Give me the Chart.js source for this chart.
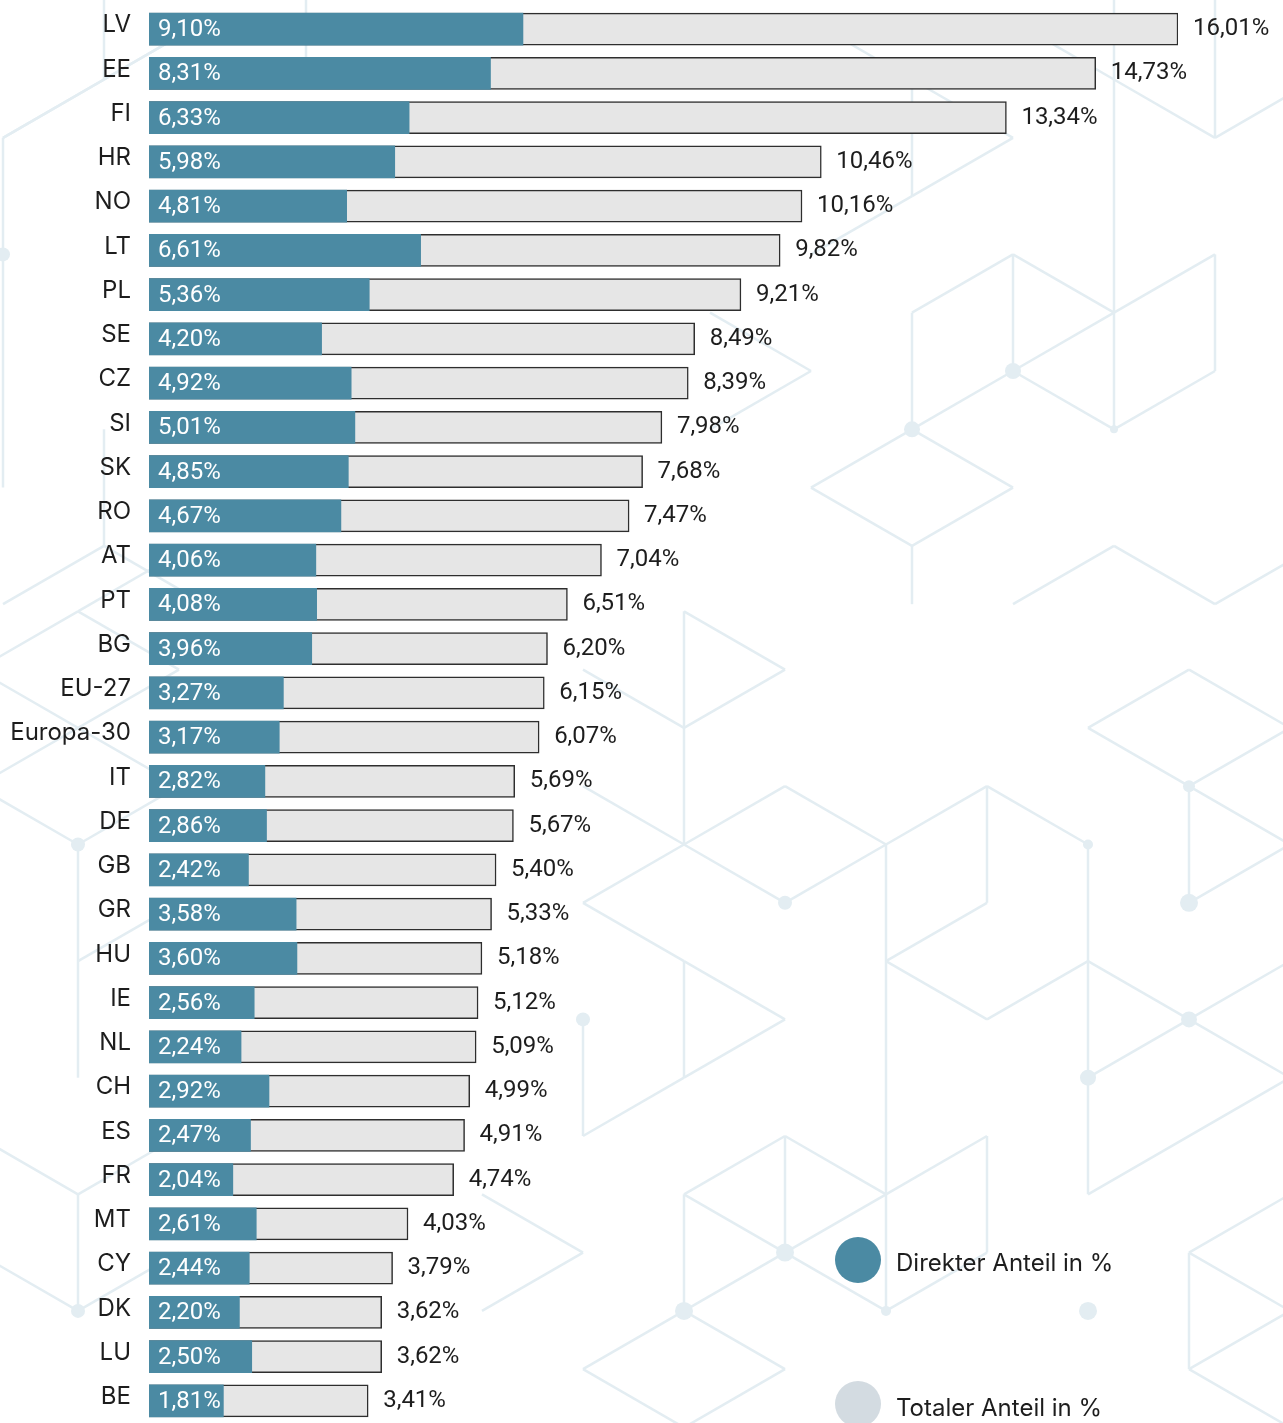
<!DOCTYPE html>
<html lang="de">
<head>
<meta charset="utf-8">
<title>Direkter und totaler Anteil in %</title>
<script src="https://cdn.jsdelivr.net/npm/chart.js@4.4.1/dist/chart.umd.min.js"></script>
<style>
  html, body { margin: 0; padding: 0; background: #fff; }
  #wrap { width: 1283px; height: 1423px; }
</style>
</head>
<body>
<div id="wrap"><canvas id="anteilChart" width="1283" height="1423"></canvas></div>
<script>
var categories = ['LV', 'EE', 'FI', 'HR', 'NO', 'LT', 'PL', 'SE', 'CZ', 'SI', 'SK', 'RO', 'AT', 'PT', 'BG',
    'EU-27', 'Europa-30', 'IT', 'DE', 'GB', 'GR', 'HU', 'IE', 'NL', 'CH', 'ES', 'FR', 'MT', 'CY', 'DK', 'LU', 'BE'];
var direktAnteil = [9.10, 8.31, 6.33, 5.98, 4.81, 6.61, 5.36, 4.20, 4.92, 5.01, 4.85, 4.67, 4.06, 4.08, 3.96,
    3.27, 3.17, 2.82, 2.86, 2.42, 3.58, 3.60, 2.56, 2.24, 2.92, 2.47, 2.04, 2.61, 2.44, 2.20, 2.50, 1.81];
var totalAnteil = [16.01, 14.73, 13.34, 10.46, 10.16, 9.82, 9.21, 8.49, 8.39, 7.98, 7.68, 7.47, 7.04, 6.51, 6.20,
    6.15, 6.07, 5.69, 5.67, 5.40, 5.33, 5.18, 5.12, 5.09, 4.99, 4.91, 4.74, 4.03, 3.79, 3.62, 3.62, 3.41];
var legendLabels = ['Direkter Anteil in %', 'Totaler Anteil in %'];

var TEAL = '#4b8aa3';
var BAR_GRAY = '#e6e6e6';
var LEGEND_GRAY = '#d3dbe1';
var TEXT = '#1d1d1d';
var LINE = '#e3edf2';
var FONT_NUM = 'Roboto, "Noto Sans", sans-serif';
var FONT_TXT = 'Inter, "Noto Sans", sans-serif';

Chart.defaults.font.family = FONT_TXT;

function fmt(v){
    return v.toFixed(2).replace('.', ',') + '%';
}

// background: isometric lattice pieces (i = column, j = half row)
var DX = 101, DY = 58.3;
var hexUpper = {
    x0: 3, y0: 21.2,
    edges: [[9,1,9,3],[9,1,10,2],[10,2,9,3],[9,3,8,4],[10,0,11,1],[11,-1,11,5],[11,1,12,2],[12,-1,12,2],
        [12,2,13,1],[8,0,9,1],[9,5,10,4],[10,4,11,5],[11,5,12,4],[9,5,9,7],[10,4,10,6],[9,7,10,6],
        [10,6,11,5],[12,4,12,6],[12,6,11,7],[11,5,11,7],[10,6,11,7],[9,7,8,8],[8,8,9,9],[9,9,10,8],
        [10,8,9,7],[9,9,9,10],[10,10,11,9],[11,9,12,10],[12,10,13,9],[7,5,8,6],[8,6,7,7],
        [0,2,0,8],[0,2,2,0],[1,7,1,9],[1,9,0,10],[1,9,2,10],[1,-1,1,1],[1,1,2,0],[1,1,0,2],[3,-1,3,1]],
    dots: [[0,4,7],[10,6,8],[9,7,8],[11,7,4]]
};
var hexLower = {
    x0: 78, y0: 844.5,
    edges: [[6,-4,7,-3],[7,-3,6,-2],[6,-4,6,0],[5,-3,6,-2],[5,-1,6,0],[5,1,6,0],[6,0,7,-1],[7,-1,8,0],
        [6,0,7,1],[7,1,8,0],[8,0,8,8],[8,0,9,-1],[9,-1,9,1],[9,1,8,2],[8,2,9,3],[9,3,10,2],[9,-1,10,0],
        [10,0,10,6],[10,2,11,3],[11,3,10,4],[11,3,12,2],[11,3,12,4],[10,6,12,4],
        [10,-2,11,-3],[11,-3,12,-2],[12,-2,11,-1],[11,-1,10,-2],[11,-1,11,1],[11,-1,12,0],[12,0,11,1],
        [5,1,6,2],[6,2,7,3],[7,3,6,4],[6,2,6,4],[5,5,6,4],[5,3,5,5],
        [6,6,7,5],[7,5,8,6],[8,6,9,5],[7,5,7,7],[9,5,9,7],[6,6,7,7],[7,7,8,6],[6,6,6,8],[6,8,7,7],
        [7,7,8,8],[8,8,9,7],[6,8,5,9],[5,9,6,10],[6,8,7,9],[7,9,6,10],[4,6,5,7],[5,7,4,8],
        [11,7,12,6],[11,7,11,9],[11,9,12,10],[11,7,12,8],[12,8,11,9],
        [0,0,0,4],[-1,-1,0,0],[0,0,1,-1],[0,2,1,1],[-1,-3,1,-1],[-1,-1,1,-3],[-1,-3,0,-4],[0,-4,1,-5],
        [0,-4,1,-3],[-1,5,0,6],[0,6,1,5],[0,6,0,8],[-1,7,0,8],[0,8,1,7]],
    dots: [[0,0,7],[0,8,7],[7,1,7],[10,0,5],[11,-1,6],[11,1,9],[11,3,8],[10,4,8],[12,0,5],
        [7,7,9],[6,8,9],[8,8,5],[10,8,9],[5,3,7]]
};

var hexBackground = {
    id: 'hexBackground',
    beforeDraw: function(chart){
        var ctx = chart.ctx;
        ctx.save();
        ctx.fillStyle = '#fff';
        ctx.fillRect(0, 0, chart.width, chart.height);
        ctx.strokeStyle = LINE;
        ctx.fillStyle = LINE;
        ctx.lineWidth = 2.5;
        [hexUpper, hexLower].forEach(function(g){
            g.edges.forEach(function(e){
                ctx.beginPath();
                ctx.moveTo(g.x0 + e[0] * DX, g.y0 + e[1] * DY);
                ctx.lineTo(g.x0 + e[2] * DX, g.y0 + e[3] * DY);
                ctx.stroke();
            });
            g.dots.forEach(function(d){
                ctx.beginPath();
                ctx.arc(g.x0 + d[0] * DX, g.y0 + d[1] * DY, d[2], 0, Math.PI * 2);
                ctx.fill();
            });
        });
        ctx.restore();
    }
};

var barLabels = {
    id: 'barLabels',
    afterDatasetsDraw: function(chart){
        var ctx = chart.ctx;
        var metaD = chart.getDatasetMeta(0);
        var metaT = chart.getDatasetMeta(1);
        ctx.save();
        ctx.font = '24px ' + FONT_NUM;
        ctx.textBaseline = 'middle';
        ctx.textAlign = 'left';
        metaD.data.forEach(function(bar, i){
            ctx.fillStyle = '#fff';
            ctx.fillText(fmt(direktAnteil[i]), bar.base + 9, bar.y + 1);
            var t = metaT.data[i];
            ctx.fillStyle = TEXT;
            ctx.fillText(fmt(totalAnteil[i]), t.x + 15, t.y);
        });
        ctx.restore();
    },
    afterDraw: function(chart){
        var ctx = chart.ctx;
        var items = [[TEAL, 1260, 1264], [LEGEND_GRAY, 1404, 1409]];
        ctx.save();
        ctx.font = '24px ' + FONT_TXT;
        ctx.textBaseline = 'middle';
        ctx.textAlign = 'left';
        items.forEach(function(it, i){
            ctx.fillStyle = it[0];
            ctx.beginPath();
            ctx.arc(858, it[1], 23, 0, Math.PI * 2);
            ctx.fill();
            ctx.fillStyle = TEXT;
            ctx.fillText(legendLabels[i], 896, it[2]);
        });
        ctx.restore();
    }
};

var ctx1 = document.getElementById('anteilChart');
var anteilChart = new Chart(ctx1, {
    type: 'bar',
    data: {
        labels: categories,
        datasets: [{
            label: legendLabels[0],
            data: direktAnteil,
            xAxisID: 'x2',
            backgroundColor: TEAL,
            borderWidth: 0,
            barThickness: 32,
            grouped: false,
            order: 0
        }, {
            label: legendLabels[1],
            data: totalAnteil,
            xAxisID: 'x',
            backgroundColor: BAR_GRAY,
            borderColor: '#2e2e2e',
            borderWidth: 1.5,
            barThickness: 32,
            grouped: false,
            order: 1
        }]
    },
    options: {
        indexAxis: 'y',
        responsive: false,
        animation: false,
        events: [],
        layout: { padding: { left: 0, right: 105, top: 7, bottom: 0 } },
        plugins: {
            legend: { display: false },
            tooltip: { enabled: false }
        },
        scales: {
            x: { display: false, min: 0, max: 16.01 },
            x2: { display: false, min: 0, max: 25.04, position: 'bottom' },
            y: {
                grid: { display: false, drawTicks: false },
                border: { display: false },
                ticks: {
                    color: TEXT,
                    font: { size: 24, family: FONT_TXT },
                    padding: 18,
                    labelOffset: -4
                },
                afterFit: function(scale){
                    scale.width = 149;
                    scale.paddingTop = 0;
                    scale.paddingBottom = 0;
                }
            }
        }
    },
    plugins: [hexBackground, barLabels]
});
</script>
</body>
</html>
